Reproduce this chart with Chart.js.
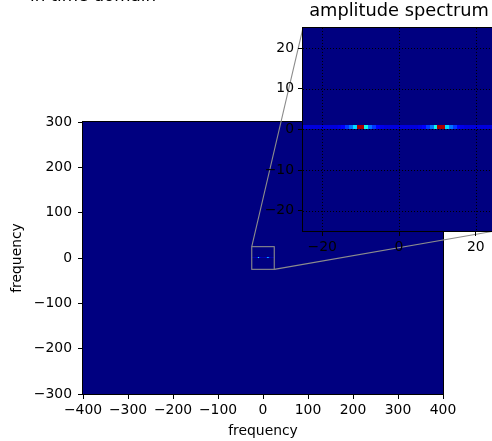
<!DOCTYPE html>
<html lang="en">
<head>
<meta charset="UTF-8">
<title>amplitude spectrum</title>
<style>
    html, body {
        margin: 0;
        width: 492px;
        height: 441px;
        overflow: hidden;
        background: white;
    }
    #wrap {
        position: relative;
        width: 492px;
        height: 441px;
    }
    #main-chart {
        position: absolute;
        left: 0;
        top: 0;
    }
    #inset-chart {
        position: absolute;
        left: 250px;
        top: 0;
    }
</style>
</head>
<body>
<div id="wrap">
    <canvas id="main-chart" width="492" height="441"></canvas>
    <canvas id="inset-chart" width="250" height="262"></canvas>
</div>
<script src="https://cdn.jsdelivr.net/npm/chart.js"></script>
<script>
    // axis ticks
    const mainXTicks = [-400, -300, -200, -100, 0, 100, 200, 300, 400];
    const mainYTicks = [-300, -200, -100, 0, 100, 200, 300];
    const insetXTicks = [-20, 0, 20];
    const insetYTicks = [-20, -10, 0, 10, 20];

    // image extent (whole spectrum) and zoomed window
    const imageX = [-400, 400];
    const imageY = [-300, 300];
    const zoomX = [-25, 25];
    const zoomY = [-25, 25];

    // the only non-zero row of the spectrum: cells [f, f+1] x [rowY, rowY+1]
    const rowY = 0;
    const rowFreq = [-25, -24, -23, -22, -21, -20, -19, -18, -17, -16,
                     -15, -14, -13, -12, -11, -10, -9, -8, -7, -6,
                     -5, -4, -3, -2, -1, 0, 1, 2, 3, 4, 5,
                     6, 7, 8, 9, 10, 11, 12, 13, 14, 15,
                     16, 17, 18, 19, 20, 21, 22, 23, 24];
    const rowAmp = [0.08, 0.08, 0.08, 0.08, 0.08, 0.08, 0.08, 0.08, 0.08, 0.09,
                    0.11, 0.18, 0.24, 0.34, 0.96, 0.96, 0.37, 0.24, 0.18, 0.11,
                    0.09, 0.08, 0.08, 0.08, 0.08, 0.08, 0.08, 0.08, 0.08, 0.08, 0.09,
                    0.11, 0.18, 0.24, 0.37, 0.96, 0.96, 0.34, 0.24, 0.18, 0.11,
                    0.09, 0.08, 0.08, 0.08, 0.08, 0.08, 0.08, 0.08, 0.08];

    const FONT = "'DejaVu Sans', sans-serif";

    // matplotlib "jet"
    const jetR = [[0, 0], [0.35, 0], [0.66, 1], [0.89, 1], [1, 0.5]];
    const jetG = [[0, 0], [0.125, 0], [0.375, 1], [0.64, 1], [0.91, 0], [1, 0]];
    const jetB = [[0, 0.5], [0.11, 1], [0.34, 1], [0.65, 0], [1, 0]];

    function interp(pts, v) {
        for (let i = 1; i < pts.length; i++) {
            if (v <= pts[i][0]) {
                const t = (v - pts[i - 1][0]) / (pts[i][0] - pts[i - 1][0]);
                return pts[i - 1][1] + t * (pts[i][1] - pts[i - 1][1]);
            }
        }
        return pts[pts.length - 1][1];
    }

    function jet(v) {
        v = Math.max(0, Math.min(1, v));
        const r = Math.round(interp(jetR, v) * 255);
        const g = Math.round(interp(jetG, v) * 255);
        const b = Math.round(interp(jetB, v) * 255);
        return `rgb(${r},${g},${b})`;
    }

    function fmt(v) {
        return v < 0 ? '\u2212' + Math.abs(v) : String(v);
    }

    // draws the spectrum image; when averaged, cells smaller than a pixel are area-averaged
    function drawSpectrum(chart, averaged) {
        const {ctx, chartArea: a, scales: {x, y}} = chart;
        ctx.save();
        ctx.beginPath();
        ctx.rect(a.left, a.top, a.width, a.height);
        ctx.clip();

        const bx0 = x.getPixelForValue(imageX[0]);
        const bx1 = x.getPixelForValue(imageX[1]);
        const by0 = y.getPixelForValue(imageY[1]);
        const by1 = y.getPixelForValue(imageY[0]);
        ctx.fillStyle = jet(0);
        ctx.fillRect(bx0, by0, bx1 - bx0, by1 - by0);

        const py0 = y.getPixelForValue(rowY + 1);
        const py1 = y.getPixelForValue(rowY);

        if (!averaged) {
            rowFreq.forEach((f, i) => {
                const px0 = Math.round(x.getPixelForValue(f));
                const px1 = Math.round(x.getPixelForValue(f + 1));
                ctx.fillStyle = jet(rowAmp[i]);
                ctx.fillRect(px0, Math.round(py0), px1 - px0, Math.round(py1) - Math.round(py0));
            });
        } else {
            const acc = new Map();
            rowFreq.forEach((f, i) => {
                const px0 = x.getPixelForValue(f);
                const px1 = x.getPixelForValue(f + 1);
                for (let px = Math.floor(px0); px < px1; px++) {
                    for (let py = Math.floor(py0); py < py1; py++) {
                        const ox = Math.min(px + 1, px1) - Math.max(px, px0);
                        const oy = Math.min(py + 1, py1) - Math.max(py, py0);
                        if (ox > 0 && oy > 0) {
                            const key = px + ',' + py;
                            acc.set(key, (acc.get(key) || 0) + rowAmp[i] * ox * oy);
                        }
                    }
                }
            });
            acc.forEach((v, key) => {
                const [px, py] = key.split(',').map(Number);
                ctx.fillStyle = jet(v);
                ctx.fillRect(px, py, 1, 1);
            });
        }
        ctx.restore();
    }

    function drawFrame(chart) {
        const {ctx, chartArea: a} = chart;
        ctx.save();
        ctx.strokeStyle = '#000';
        ctx.lineWidth = 1;
        ctx.strokeRect(Math.round(a.left) - 0.5, Math.round(a.top) - 0.5,
            Math.round(a.right) - Math.round(a.left) + 1, Math.round(a.bottom) - Math.round(a.top) + 1);
        ctx.restore();
    }

    function axisOpts(min, max, tickValues, fitSize, horizontal, tickPad, titleText, titlePad) {
        const o = {
            type: 'linear',
            min: min,
            max: max,
            afterBuildTicks: s => { s.ticks = tickValues.map(v => ({value: v})); },
            afterFit: s => {
                if (horizontal) s.height = fitSize; else s.width = fitSize;
            },
            grid: {
                display: true,
                drawOnChartArea: false,
                drawTicks: true,
                tickLength: 5,
                color: '#000',
                lineWidth: 1
            },
            border: {display: false},
            ticks: {
                color: '#000',
                font: {family: FONT, size: 13.9},
                padding: tickPad,
                maxRotation: 0,
                autoSkip: false,
                callback: fmt
            }
        };
        if (titleText) {
            o.title = {
                display: true,
                text: titleText,
                color: '#000',
                font: {family: FONT, size: 13.9},
                padding: titlePad
            };
        }
        return o;
    }

    // inset: zoom on the centre of the spectrum
    const insetPlugin = {
        id: 'insetImage',
        beforeDatasetsDraw(chart) {
            drawSpectrum(chart, false);
            const {ctx, chartArea: a, scales: {x, y}} = chart;
            ctx.save();
            ctx.strokeStyle = '#000';
            ctx.lineWidth = 1;
            ctx.setLineDash([1, 2]);
            insetXTicks.forEach(v => {
                const px = Math.round(x.getPixelForValue(v)) + 0.5;
                ctx.beginPath();
                ctx.moveTo(px, a.top);
                ctx.lineTo(px, a.bottom);
                ctx.stroke();
            });
            insetYTicks.forEach(v => {
                const py = Math.round(y.getPixelForValue(v)) + 0.5;
                ctx.beginPath();
                ctx.moveTo(a.left, py);
                ctx.lineTo(a.right, py);
                ctx.stroke();
            });
            ctx.restore();
        },
        afterDraw(chart) {
            drawFrame(chart);
        }
    };

    const insetChart = new Chart(document.getElementById('inset-chart'), {
        type: 'scatter',
        data: {datasets: [{data: []}]},
        options: {
            responsive: false,
            animation: false,
            events: [],
            layout: {padding: {left: 0, top: 0, right: 5, bottom: 0}},
            plugins: {
                legend: {display: false},
                tooltip: {enabled: false},
                title: {
                    display: true,
                    fullSize: false,
                    text: 'amplitude spectrum',
                    color: '#000',
                    font: {family: FONT, size: 17.8, weight: 'normal', lineHeight: 1.2},
                    padding: {top: 1, bottom: 5.6}
                }
            },
            scales: {
                x: axisOpts(zoomX[0], zoomX[1], insetXTicks, 31, true, 3),
                y: axisOpts(zoomY[0], zoomY[1], insetYTicks, 53, false, 4)
            }
        },
        plugins: [insetPlugin]
    });

    // main axes
    const mainPlugin = {
        id: 'mainImage',
        beforeDatasetsDraw(chart) {
            drawSpectrum(chart, true);
        },
        afterDraw(chart) {
            drawFrame(chart);
            const {ctx, scales: {x, y}} = chart;

            // zoom box and connectors to the inset corners
            const bx0 = x.getPixelForValue(zoomX[0]);
            const bx1 = x.getPixelForValue(zoomX[1]);
            const by0 = y.getPixelForValue(zoomY[1]);
            const by1 = y.getPixelForValue(zoomY[0]);
            const ic = insetChart.canvas;
            const ix0 = ic.offsetLeft + insetChart.scales.x.getPixelForValue(zoomX[0]);
            const ix1 = ic.offsetLeft + insetChart.scales.x.getPixelForValue(zoomX[1]);
            const iy0 = ic.offsetTop + insetChart.scales.y.getPixelForValue(zoomY[1]);
            const iy1 = ic.offsetTop + insetChart.scales.y.getPixelForValue(zoomY[0]);

            ctx.save();
            ctx.strokeStyle = '#8c8c8c';
            ctx.lineWidth = 1.1;
            ctx.strokeRect(bx0, by0, bx1 - bx0, by1 - by0);
            ctx.beginPath();
            ctx.moveTo(bx0, by0);
            ctx.lineTo(ix0, iy0);
            ctx.moveTo(bx1, by1);
            ctx.lineTo(ix1, iy1);
            ctx.stroke();

            // title of the panel above, cut by the figure edge
            ctx.fillStyle = '#000';
            ctx.font = '16.7px ' + FONT;
            ctx.textBaseline = 'alphabetic';
            ctx.textAlign = 'left';
            ctx.fillText('in time domain', 30, 1);
            ctx.restore();
        }
    };

    const mainChart = new Chart(document.getElementById('main-chart'), {
        type: 'scatter',
        data: {datasets: [{data: []}]},
        options: {
            responsive: false,
            animation: false,
            events: [],
            layout: {padding: {left: 0, top: 122, right: 49, bottom: 0}},
            plugins: {
                legend: {display: false},
                tooltip: {enabled: false}
            },
            scales: {
                x: axisOpts(imageX[0], imageX[1], mainXTicks, 47, true, 3, 'frequency', {top: 0, bottom: 1}),
                y: axisOpts(imageY[0], imageY[1], mainYTicks, 83, false, 6, 'frequency', {top: 9, bottom: 0})
            }
        },
        plugins: [mainPlugin]
    });
</script>
</body>
</html>
